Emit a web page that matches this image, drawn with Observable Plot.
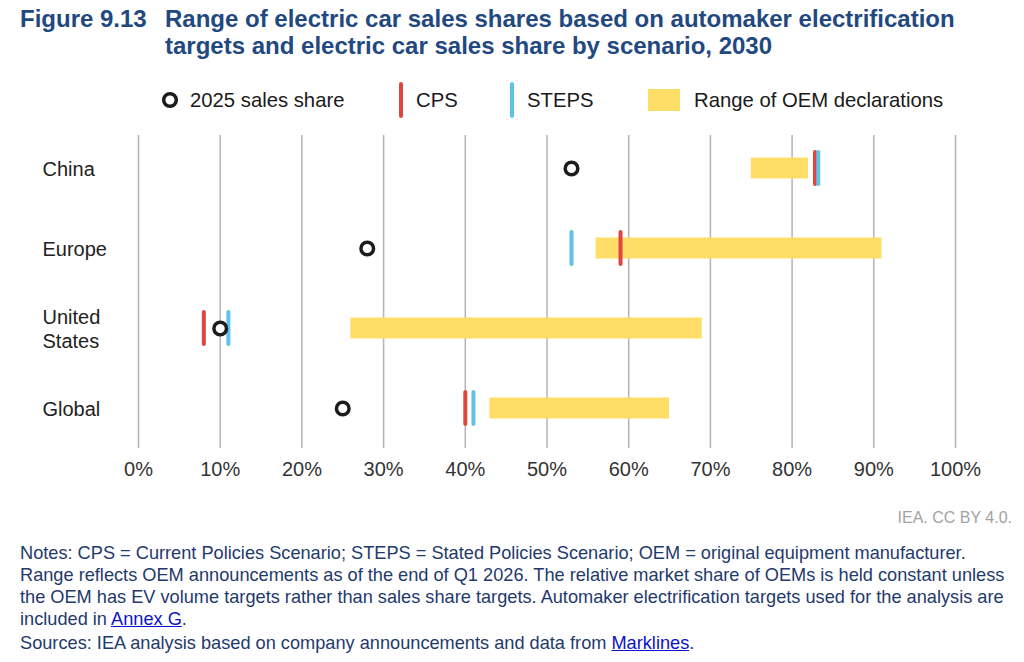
<!DOCTYPE html>
<html>
<head>
<meta charset="utf-8">
<script src="https://cdn.jsdelivr.net/npm/d3@7"></script>
<script src="https://cdn.jsdelivr.net/npm/@observablehq/plot@0.6"></script>
<style>
  html, body { margin: 0; padding: 0; background: #fff; }
  body { width: 1024px; height: 662px; position: relative; overflow: hidden;
         font-family: "Liberation Sans", Arial, Helvetica, sans-serif; }
  .abs { position: absolute; }
  #fig { left: 20px; top: 5px; font-weight: bold; font-size: 24px; line-height: 27px; color: #22497f; }
  #title { left: 165px; top: 5px; font-weight: bold; font-size: 24px; line-height: 27px; color: #22497f; white-space: nowrap; }
  #legend { left: 0; top: 80px; }
  #chart { left: 0; top: 130px; }
  #credit { right: 12px; top: 509px; font-size: 16px; color: #a3a3a3; }
  #notes { left: 20px; top: 542px; font-size: 18.2px; line-height: 22px; color: #1f3a6c; white-space: nowrap; }
  #notes a { color: #0b14c8; text-decoration: underline; }
  #sources { margin-top: 2px; }
</style>
</head>
<body>
<div id="fig" class="abs">Figure 9.13</div>
<div id="title" class="abs">Range of electric car sales shares based on automaker electrification<br>targets and electric car sales share by scenario, 2030</div>
<div id="legend" class="abs"></div>
<div id="chart" class="abs"></div>
<div id="credit" class="abs">IEA. CC BY 4.0.</div>
<div id="notes" class="abs">
  Notes: CPS = Current Policies Scenario; STEPS = Stated Policies Scenario; OEM = original equipment manufacturer.<br>
  Range reflects OEM announcements as of the end of Q1 2026. The relative market share of OEMs is held constant unless<br>
  the OEM has EV volume targets rather than sales share targets. Automaker electrification targets used for the analysis are<br>
  included in <a>Annex G</a>.
  <div id="sources">Sources: IEA analysis based on company announcements and data from <a>Marklines</a>.</div>
</div>
<script>
// Electric car sales share (%) by region
const regions = ["China", "Europe", "United States", "Global"];
const regionLabels = ["China", "Europe", "United\nStates", "Global"];
const sales2025 = [53, 28, 10, 25];
const cps = [82.8, 59, 8, 40];
const steps = [83.2, 53, 11, 41];
const oemLow = [75, 56, 26, 43];
const oemHigh = [82, 91, 69, 65];
const xTicks = [0, 10, 20, 30, 40, 50, 60, 70, 80, 90, 100];
const xTickLabels = ["0%", "10%", "20%", "30%", "40%", "50%", "60%", "70%", "80%", "90%", "100%"];

const colors = { sales: "#1c1c1c", cps: "#e0463f", steps: "#5ec3e9", oem: "#ffde68" };

const rows = regions.map((r, i) => ({
  region: r, label: regionLabels[i], sales: sales2025[i],
  cps: cps[i], steps: steps[i], lo: oemLow[i], hi: oemHigh[i]
}));

const font = "'Liberation Sans', Arial, Helvetica, sans-serif";

// Each band is as tall as the scenario ticks; the range bars sit inset within it
const chart = Plot.plot({
  width: 1024,
  height: 370,
  marginLeft: 138,
  marginRight: 69,
  marginTop: 5,
  marginBottom: 52,
  style: { fontFamily: font, fontSize: "20px", color: "#333", background: "transparent" },
  x: { domain: [0, 100] },
  y: { type: "band", domain: regions, range: [18.75, 296.25], paddingInner: 0.5528, paddingOuter: 0, axis: null },
  marks: [
    Plot.ruleX(xTicks, { stroke: "#b4b4b4", strokeWidth: 1.5 }),
    Plot.axisX({
      ticks: xTicks,
      tickFormat: d => xTickLabels[xTicks.indexOf(d)],
      tickSize: 0,
      tickPadding: 13,
      fontSize: 20,
      fill: "#333",
      label: null
    }),
    Plot.barX(rows, { y: "region", x1: "lo", x2: "hi", fill: colors.oem, insetTop: 7.5, insetBottom: 7.5 }),
    Plot.tickX(rows, { x: "cps", y: "region", stroke: colors.cps, strokeWidth: 4, strokeLinecap: "round", insetTop: 2, insetBottom: 2 }),
    Plot.tickX(rows, { x: "steps", y: "region", stroke: colors.steps, strokeWidth: 4, strokeLinecap: "round", insetTop: 2, insetBottom: 2 }),
    Plot.dot(rows, { x: "sales", y: "region", r: 6.3, stroke: colors.sales, strokeWidth: 3.5, fill: "white" }),
    Plot.text(rows, {
      y: "region", text: "label", frameAnchor: "left", textAnchor: "start", dx: -96,
      fontSize: 20, fill: "#222", lineHeight: 1.2
    })
  ]
});
document.getElementById("chart").append(chart);

// Legend
const ns = "http://www.w3.org/2000/svg";
const lg = d3.create("svg").attr("xmlns", ns).attr("width", 1024).attr("height", 42)
  .style("font-family", font).style("font-size", "20.3px");
const cy = 20;
lg.append("circle").attr("cx", 170).attr("cy", cy).attr("r", 6.3)
  .attr("fill", "white").attr("stroke", colors.sales).attr("stroke-width", 3.5);
lg.append("text").attr("x", 190).attr("y", cy).attr("dy", "0.35em").attr("fill", "#1a1a1a").text("2025 sales share");
lg.append("line").attr("x1", 401).attr("x2", 401).attr("y1", cy - 16).attr("y2", cy + 16)
  .attr("stroke", colors.cps).attr("stroke-width", 4).attr("stroke-linecap", "round");
lg.append("text").attr("x", 416).attr("y", cy).attr("dy", "0.35em").attr("fill", "#1a1a1a").text("CPS");
lg.append("line").attr("x1", 512).attr("x2", 512).attr("y1", cy - 16).attr("y2", cy + 16)
  .attr("stroke", colors.steps).attr("stroke-width", 4).attr("stroke-linecap", "round");
lg.append("text").attr("x", 527).attr("y", cy).attr("dy", "0.35em").attr("fill", "#1a1a1a").text("STEPS");
lg.append("rect").attr("x", 648).attr("y", cy - 11).attr("width", 32).attr("height", 22).attr("fill", colors.oem);
lg.append("text").attr("x", 694).attr("y", cy).attr("dy", "0.35em").attr("fill", "#1a1a1a").text("Range of OEM declarations");
document.getElementById("legend").append(lg.node());
</script>
</body>
</html>
